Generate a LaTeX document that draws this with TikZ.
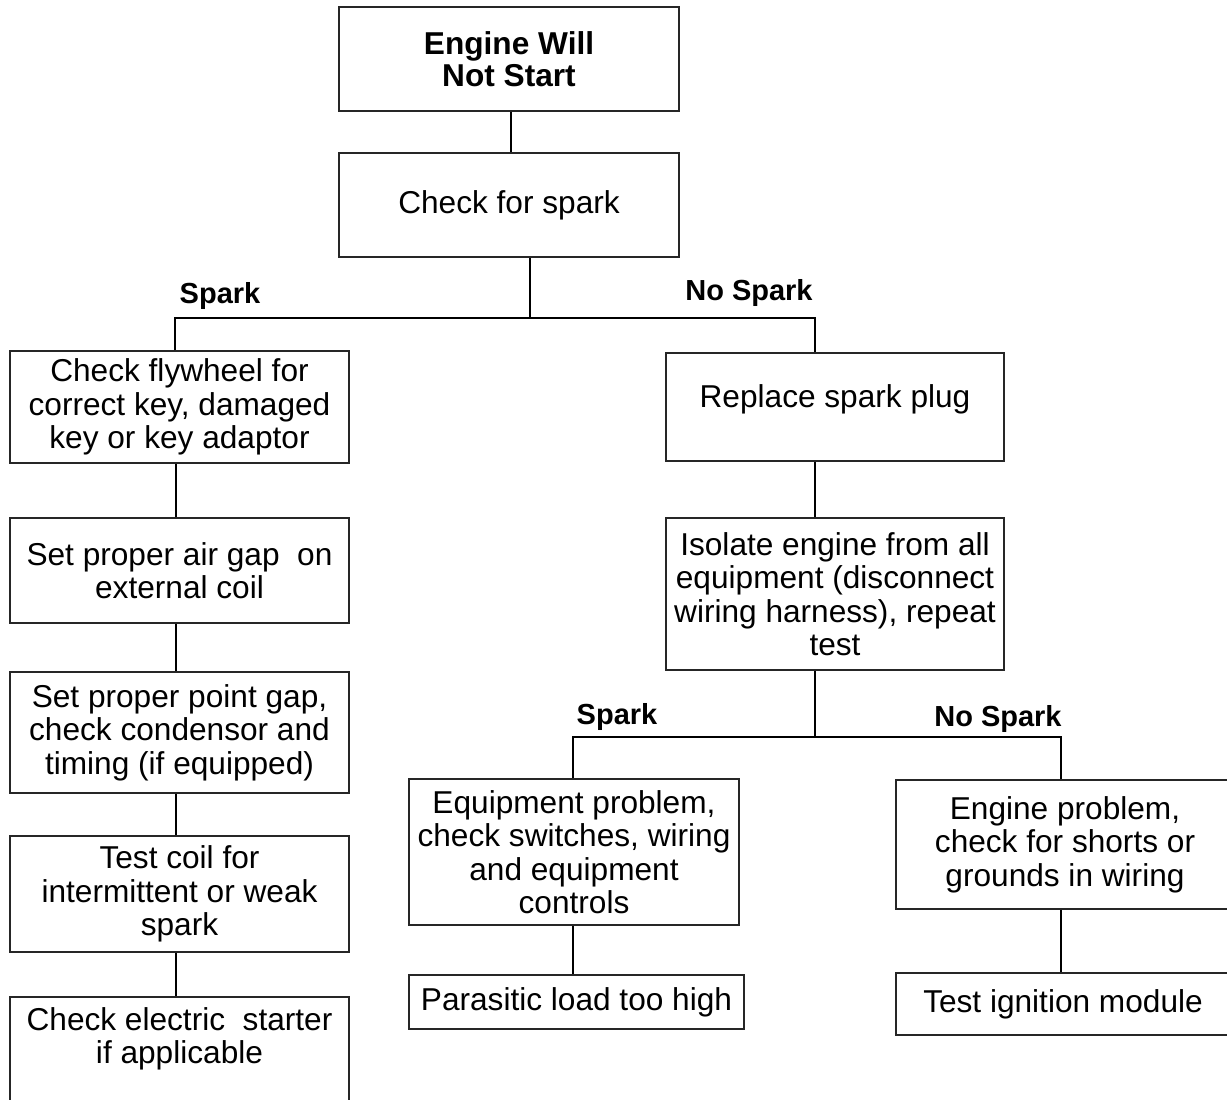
\documentclass[tikz,border=0pt]{standalone}
\usepackage{fontspec}
\setmainfont{Liberation Sans}
\usetikzlibrary{positioning,calc}

\begin{document}
\begin{tikzpicture}[x=0.02cm,y=-0.02cm,
box/.style={draw=black!85,line width=0.8pt,rectangle,align=center,inner sep=2pt,font=\fontsize{18}{19}\selectfont},
head/.style={box,font=\fontsize{18}{18.5}\selectfont\bfseries},
branch/.style={font=\fontsize{16.5}{18}\selectfont\bfseries,inner sep=0pt},
link/.style={line width=1.1pt}]

\useasboundingbox (0,0) rectangle (1227,1099);
\clip (0,0) rectangle (1227,1099);

% top of the chart
\node[head, minimum width=6.8cm, minimum height=2.08cm] (start) at (509,59) {Engine Will\\Not Start};
\node[box, minimum width=6.8cm, minimum height=2.08cm] (spark) at (509,205) {Check for spark};

% spark branch
\node[box, minimum width=6.78cm, minimum height=2.24cm] (flywheel) at (179.5,407) {Check flywheel for\\correct key, damaged\\key or key adaptor};
\node[box, minimum width=6.78cm, minimum height=2.1cm] (airgap) at (179.5,570.5) {Set proper air gap\ \ on\\external coil};
\node[box, minimum width=6.78cm, minimum height=2.42cm] (pointgap) at (179.5,732.5) {Set proper point gap,\\check condensor and\\timing (if equipped)};
\node[box, minimum width=6.78cm, minimum height=2.32cm] (coil) at (179.5,894) {Test coil for\\intermittent or weak\\spark};
\node[box, minimum width=6.78cm, minimum height=2.2cm] (starter) at (179.5,1052) {Check electric\ \ starter\\if applicable\\\mbox{}};

% no spark branch
\node[box, minimum width=6.76cm, minimum height=2.16cm] (replace) at (835,407) {Replace spark plug\\[-6pt]\mbox{}};
\node[box, minimum width=6.76cm, minimum height=3.04cm] (isolate) at (835,594) {Isolate engine from all\\equipment (disconnect\\wiring harness), repeat\\test};
\node[box, minimum width=6.6cm, minimum height=2.92cm] (equipment) at (574,852) {Equipment problem,\\check switches, wiring\\and equipment\\controls};
\node[box, minimum width=6.7cm, minimum height=1.08cm] (parasitic) at (576.5,1002) {Parasitic load too high};
\node[box, minimum width=6.76cm, minimum height=2.58cm] (engprob) at (1065,844.5) {Engine problem,\\check for shorts or\\grounds in wiring};
\node[box, minimum width=6.68cm, minimum height=1.24cm] (ignition) at (1063,1004) {Test ignition module};

% first fork
\coordinate (fork) at (530,318);
\coordinate (forkL) at (175,318);
\coordinate (forkR) at (815,318);
\draw[link] (start.south -| 511,0) -- (spark.north -| 511,0);
\draw[link] (spark.south -| fork) -- (fork);
\draw[link] (flywheel.north -| forkL) -- (forkL) -- (forkR) -- (replace.north -| forkR);
\node[branch] (lblspark) at (220,296) {Spark};
\node[branch] (lblnospark) at (749,293) {No Spark};

\coordinate (chain) at (176,0);
\foreach \a/\b in {flywheel/airgap, airgap/pointgap, pointgap/coil, coil/starter}
  \draw[link] (\a.south -| chain) -- (\b.north -| chain);
\draw[link] (replace.south -| forkR) -- (isolate.north -| forkR);

% second fork
\coordinate (fork2) at (815,737);
\coordinate (fork2L) at (573,737);
\coordinate (fork2R) at (1061,737);
\draw[link] (isolate.south -| fork2) -- (fork2);
\draw[link] (equipment.north -| fork2L) -- (fork2L) -- (fork2R) -- (engprob.north -| fork2R);
\node[branch] (lblspark2) at (617,717) {Spark};
\node[branch] (lblnospark2) at (998,719) {No Spark};
\draw[link] (equipment.south -| fork2L) -- (parasitic.north -| fork2L);
\draw[link] (engprob.south -| fork2R) -- (ignition.north -| fork2R);
\end{tikzpicture}
\end{document}
